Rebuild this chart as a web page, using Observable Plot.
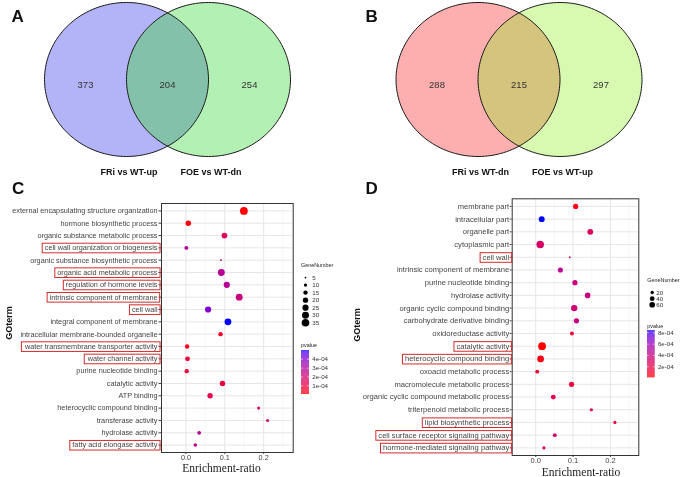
<!DOCTYPE html>
<html><head><meta charset="utf-8">
<script src="https://cdn.jsdelivr.net/npm/d3@7"></script>
<script src="https://cdn.jsdelivr.net/npm/@observablehq/plot@0.6"></script>
<style>
body{margin:0;background:#fff;}
#fig{position:relative;width:686px;height:477px;overflow:hidden;background:#fff;}
#fig svg{position:absolute;will-change:transform;}
</style></head><body><div id="fig"></div>
<script>
// ---------------- Venn data ----------------
const vennASets = ["FRi vs WT-up", "FOE vs WT-dn"];
const vennACounts = [373, 204, 254];           // left only, both, right only
const vennAColors = ["#b3b3f8", "#b3f0b3", "#84c1ab"];
const vennBSets = ["FRi vs WT-dn", "FOE vs WT-up"];
const vennBCounts = [288, 215, 297];
const vennBColors = ["#fdaeae", "#d8fab0", "#d5c47e"];

// ---------------- Panel C ----------------
const termsC = [
  "external encapsulating structure organization",
  "hormone biosynthetic process",
  "organic substance metabolic process",
  "cell wall organization or biogenesis",
  "organic substance biosynthetic process",
  "organic acid metabolic process",
  "regulation of hormone levels",
  "intrinsic component of membrane",
  "cell wall",
  "integral component of membrane",
  "intracellular membrane-bounded organelle",
  "water transmembrane transporter activity",
  "water channel activity",
  "purine nucleotide binding",
  "catalytic activity",
  "ATP binding",
  "heterocyclic compound binding",
  "transferase activity",
  "hydrolase activity",
  "fatty acid elongase activity"
];
const ratioC = [0.149, 0.006, 0.099, 0.001, 0.090, 0.091, 0.105, 0.137, 0.057, 0.108, 0.089, 0.003, 0.004, 0.002, 0.094, 0.062, 0.187, 0.210, 0.034, 0.024];
const genesC = [36, 21, 22, 13, 5, 29, 25, 29, 25, 29, 15, 15, 17, 15, 20, 20, 9, 9, 12, 11];
const pvalC  = [0.02e-4, 0.15e-4, 1.5e-4, 2.8e-4, 2.6e-4, 2.8e-4, 2.8e-4, 2.2e-4, 4.0e-4, 4.98e-4, 0.5e-4, 0.4e-4, 0.9e-4, 0.8e-4, 0.9e-4, 1.2e-4, 1.8e-4, 1.9e-4, 2.7e-4, 2.7e-4];
const boxedC = ["cell wall organization or biogenesis", "organic acid metabolic process", "regulation of hormone levels", "intrinsic component of membrane", "cell wall", "water transmembrane transporter activity", "water channel activity", "fatty acid elongase activity"];
const sizeBreaksC = [5, 10, 15, 20, 25, 30, 35];
const colorTicksC = [1e-4, 2e-4, 3e-4, 4e-4];

// ---------------- Panel D ----------------
const termsD = [
  "membrane part",
  "intracellular part",
  "organelle part",
  "cytoplasmic part",
  "cell wall",
  "intrinsic component of membrane",
  "purine nucleotide binding",
  "hydrolase activity",
  "organic cyclic compound binding",
  "carbohydrate derivative binding",
  "oxidoreductase activity",
  "catalytic activity",
  "heterocyclic compound binding",
  "oxoacid metabolic process",
  "macromolecule metabolic process",
  "organic cyclic compound metabolic process",
  "triterpenoid metabolic process",
  "lipid biosynthetic process",
  "cell surface receptor signaling pathway",
  "hormone-mediated signaling pathway"
];
const ratioD = [0.107, 0.016, 0.146, 0.012, 0.091, 0.066, 0.105, 0.139, 0.103, 0.109, 0.097, 0.017, 0.013, 0.004, 0.096, 0.047, 0.149, 0.212, 0.051, 0.022];
const genesD = [49, 65, 62, 105, 5, 47, 49, 58, 75, 50, 28, 115, 85, 28, 50, 42, 18, 18, 26, 16];
const pvalD  = [0.45e-4, 8.4e-4, 2.5e-4, 3.0e-4, 2.5e-4, 4.6e-4, 3.8e-4, 3.8e-4, 3.4e-4, 4.0e-4, 1.3e-4, 0.05e-4, 0.4e-4, 0.9e-4, 1.5e-4, 1.9e-4, 2.1e-4, 1.7e-4, 3.5e-4, 2.4e-4];
const boxedD = ["cell wall", "catalytic activity", "heterocyclic compound binding", "lipid biosynthetic process", "cell surface receptor signaling pathway", "hormone-mediated signaling pathway"];
const sizeBreaksD = [20, 40, 60];
const colorTicksD = [2e-4, 4e-4, 6e-4, 8e-4];

const xMajor = [0, 0.1, 0.2];
const xMinor = [-0.05, 0.05, 0.15, 0.25];

// ---------------- helpers ----------------
const FONT = "'Liberation Sans', Arial, Helvetica, sans-serif";
const fig = document.getElementById("fig");
const place = (el, left, top) => { el.style.left = left + "px"; el.style.top = top + "px"; fig.appendChild(el); return el; };
const fmtP = v => { const [m, e] = v.toExponential(0).split("e"); const n = +e; return m + "e" + (n < 0 ? "-" : "+") + String(Math.abs(n)).padStart(2, "0"); };
const colorScale = p => ({type: "linear", domain: d3.extent(p), range: ["red", "blue"], interpolate: "lab"});
const R_RANGE = [0.9, 3.9];
const sizeScale = g => ({type: "pow", exponent: 0.5, domain: d3.extent(g), range: R_RANGE});

function venn(sets, counts, colors, mid) {
  const W = 343, H = 182, rx = 82, ry = 77, cy = 79, h = 0.5, N = 160;
  const ring = cx => d3.range(N).map(i => { const t = 2 * Math.PI * i / N; return {x: cx + Math.cos(t), y: Math.sin(t)}; });
  const arc = (cx, a0, a1) => d3.range(N + 1).map(i => { const t = a0 + (a1 - a0) * i / N; return {x: cx + Math.cos(t), y: Math.sin(t)}; });
  const L = ring(-h), R = ring(h);
  const th = Math.acos(h);
  const lens = arc(-h, -th, th).concat(arc(h, Math.PI - th, Math.PI + th).slice(1, -1));
  const regions = counts.map((n, i) => ({x: i - 1, n}));
  const names = sets.map((s, i) => ({x: (i === 0 ? -h : h) + 0.03, s}));
  return Plot.plot({
    width: W, height: H, margin: 0,
    style: {background: "transparent", fontFamily: FONT, overflow: "visible"},
    x: {domain: [-mid / rx, (W - mid) / rx], axis: null},
    y: {domain: [-(H - cy) / ry, cy / ry], axis: null},
    marks: [
      Plot.line(L, {x: "x", y: "y", fill: colors[0], stroke: "none", curve: "linear-closed"}),
      Plot.line(R, {x: "x", y: "y", fill: colors[1], stroke: "none", curve: "linear-closed"}),
      Plot.line(lens, {x: "x", y: "y", fill: colors[2], stroke: "none", curve: "linear-closed"}),
      Plot.line(L, {x: "x", y: "y", stroke: "#1a1a1a", strokeWidth: 1, curve: "linear-closed"}),
      Plot.line(R, {x: "x", y: "y", stroke: "#1a1a1a", strokeWidth: 1, curve: "linear-closed"}),
      Plot.text(regions, {x: "x", y: -0.065, text: "n", fontSize: 9.5, fill: "#333"}),
      Plot.text(names, {x: "x", y: -1.208, text: "s", fontSize: 9, fontWeight: "bold", fill: "#111"})
    ]
  });
}

function dotPanel(o) {
  const data = o.terms.map((t, i) => ({term: t, ratio: o.ratio[i], genes: o.genes[i], p: o.p[i]}));
  return Plot.plot({
    width: o.width, height: o.height,
    marginLeft: o.ml, marginRight: o.mr, marginTop: o.mt, marginBottom: o.mb,
    style: {fontFamily: FONT, fontSize: o.fs + "px", color: "#444", background: "transparent", overflow: "visible"},
    x: {domain: [-0.063, 0.276], ticks: xMajor, tickFormat: d3.format(".1f"), tickSize: 2, tickPadding: 0.5, label: null},
    y: {type: "point", domain: o.terms, padding: 0.6, round: false, tickSize: o.ts, tickPadding: o.tp, label: null},
    r: sizeScale(o.genes),
    color: colorScale(o.p),
    marks: [
      Plot.ruleX(xMinor, {stroke: "#f1f1f1", strokeWidth: 0.6}),
      Plot.ruleX(xMajor, {stroke: "#e6e6e6", strokeWidth: 1}),
      Plot.ruleY(o.terms, {stroke: "#e6e6e6", strokeWidth: 1}),
      Plot.dot(data, {x: "ratio", y: "term", r: "genes", fill: "p"}),
      Plot.frame({stroke: "#333", strokeWidth: 1})
    ]
  });
}

function boxLabels(svg, boxed) {
  const set = new Set(boxed);
  const sb = svg.getBoundingClientRect();
  svg.querySelectorAll("text").forEach(t => {
    if (!set.has(t.textContent)) return;
    if (!t.closest('[aria-label^="y-axis"]')) return;
    const b = t.getBoundingClientRect();
    const cyy = (b.top + b.bottom) / 2 - sb.top + 0.3;
    const r = document.createElementNS("http://www.w3.org/2000/svg", "rect");
    r.setAttribute("x", b.left - sb.left - 2.5);
    r.setAttribute("y", cyy - 4.8);
    r.setAttribute("width", b.width + 4.7);
    r.setAttribute("height", 9.6);
    r.setAttribute("fill", "none");
    r.setAttribute("stroke", "#d42a2a");
    r.setAttribute("stroke-width", 1);
    svg.appendChild(r);
  });
}

function sizeLegend(breaks, genes, top0, y0, y1, dotX, labX) {
  return Plot.plot({
    width: 40, height: y1 - top0 + 8, margin: 0,
    style: {background: "transparent", fontFamily: FONT, overflow: "visible"},
    y: {type: "point", domain: breaks, range: [y0 - top0, y1 - top0], round: false, axis: null},
    r: sizeScale(genes),
    marks: [
      Plot.dot(breaks, {y: d => d, r: d => d, fill: "black", frameAnchor: "left", dx: dotX}),
      Plot.text(breaks, {y: d => d, text: d => String(d), frameAnchor: "left", dx: labX, textAnchor: "start", fontSize: 6.2, fill: "#333"})
    ]
  });
}

function colorLegend(p, ticks, w, h) {
  const dom = d3.extent(p);
  const n = 80;
  const stripes = d3.range(n).map(i => ({a: dom[0] + (dom[1] - dom[0]) * i / n, b: dom[0] + (dom[1] - dom[0]) * (i + 1) / n}));
  return Plot.plot({
    width: 36, height: h, margin: 0,
    style: {background: "transparent", fontFamily: FONT, overflow: "visible"},
    x: {domain: [0, 1], range: [0, w], axis: null},
    y: {domain: dom, range: [h, 0], axis: null},
    color: colorScale(p),
    marks: [
      Plot.rect(stripes, {x1: 0, x2: 1, y1: "a", y2: "b", fill: d => (d.a + d.b) / 2}),
      Plot.ruleY(ticks, {y: d => d, x1: 0, x2: 0.2, stroke: "white", strokeWidth: 0.7}),
      Plot.ruleY(ticks, {y: d => d, x1: 0.8, x2: 1, stroke: "white", strokeWidth: 0.7}),
      Plot.text(ticks, {y: d => d, x: 1, dx: 2.7, textAnchor: "start", text: fmtP, fontSize: 6.2, fill: "#333"})
    ]
  });
}

// ---------------- build ----------------
place(venn(vennASets, vennACounts, vennAColors, 167), 0, 0);
place(venn(vennBSets, vennBCounts, vennBColors, 175.5), 343, 0);

const svgC = place(dotPanel({terms: termsC, ratio: ratioC, genes: genesC, p: pvalC,
  width: 298, height: 270, ml: 161, mr: 5.3, mt: 8, mb: 13, fs: 7.3, ts: 2.5, tp: 1.5}), 0, 195);
boxLabels(svgC, boxedC);
const svgD = place(dotPanel({terms: termsD, ratio: ratioD, genes: genesD, p: pvalD,
  width: 298, height: 278, ml: 168.7, mr: 2.7, mt: 8.3, mb: 13, fs: 7.6, ts: 2, tp: 1}), 343, 190);
boxLabels(svgD, boxedD);

place(sizeLegend(sizeBreaksC, genesC, 268, 273.3, 326, 7, 13.7), 298, 268);
place(colorLegend(pvalC, colorTicksC, 8, 44), 301, 350);
place(sizeLegend(sizeBreaksD, genesD, 284, 289, 307.3, 4.7, 8.7), 647, 284);
place(colorLegend(pvalD, colorTicksD, 7.7, 47.3), 647.3, 330);

// ---------------- annotation text ----------------
const NS = "http://www.w3.org/2000/svg";
const ov = document.createElementNS(NS, "svg");
ov.setAttribute("width", 686); ov.setAttribute("height", 477);
ov.style.left = "0px"; ov.style.top = "0px"; ov.style.pointerEvents = "none";
fig.appendChild(ov);
function txt(s, x, y, attrs) {
  const t = document.createElementNS(NS, "text");
  t.textContent = s;
  t.setAttribute("x", x); t.setAttribute("y", y);
  for (const k in attrs) t.setAttribute(k, attrs[k]);
  ov.appendChild(t);
}
const letter = {"font-family": FONT, "font-size": 17, "font-weight": "bold", fill: "#111"};
txt("A", 11.5, 22, letter);
txt("B", 365.5, 22, letter);
txt("C", 12, 193.5, letter);
txt("D", 365.5, 193.5, letter);
const gol = {"font-family": FONT, "font-size": 9, "font-weight": "bold", fill: "#111", "text-anchor": "middle", "dominant-baseline": "central"};
txt("GOterm", 0, 0, {...gol, transform: "translate(8.5,323) rotate(-90)"});
txt("GOterm", 0, 0, {...gol, transform: "translate(357,325) rotate(-90)"});
const xl = {"font-family": "'Liberation Serif', 'Times New Roman', serif", "font-size": 11.5, fill: "#222", "text-anchor": "middle"};
txt("Enrichment-ratio", 221.5, 472, xl);
txt("Enrichment-ratio", 581, 476, xl);
const lt = {"font-family": FONT, "font-size": 5.4, fill: "#222"};
txt("GeneNumber", 301, 266.5, lt);
txt("pvalue", 301, 346.5, lt);
txt("GeneNumber", 647.3, 281.7, lt);
txt("pvalue", 647.3, 327.5, lt);
</script></body></html>
